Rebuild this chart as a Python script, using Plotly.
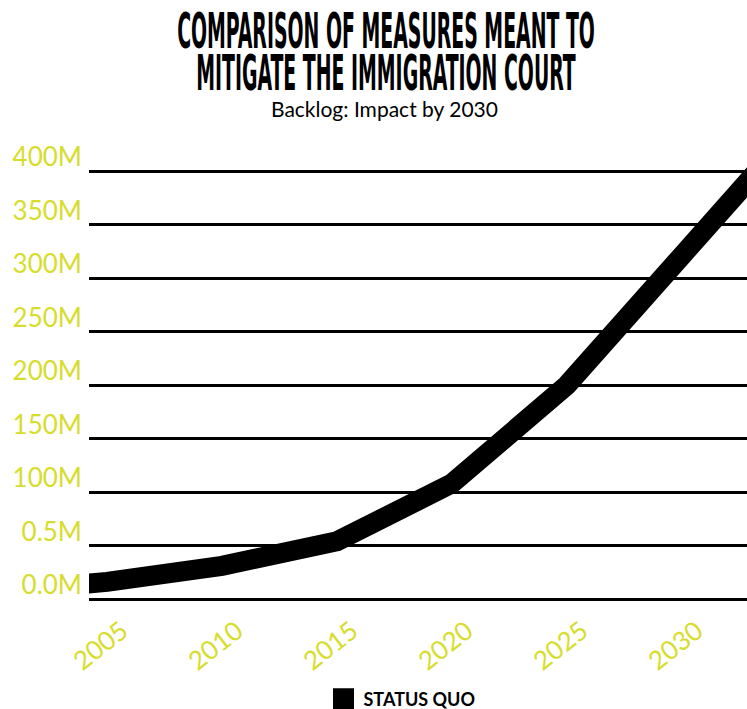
import plotly.graph_objects as go

# Backlog projection (millions of cases), status quo scenario
years = [2004, 2005, 2010, 2015, 2020, 2025, 2030, 2035]
status_quo = [14, 16, 31, 54, 108, 200, 321, 442]

# Axis ticks
x_ticks = [2005, 2010, 2015, 2020, 2025, 2030]
y_tick_vals = [0, 50, 100, 150, 200, 250, 300, 350, 400]
y_tick_text = ["0.0M", "0.5M", "100M", "150M", "200M", "250M", "300M", "350M", "400M"]

YELLOW = "#d6dd2c"
LABEL_FONT = "Lato, 'Noto Sans', sans-serif"
TITLE_FONT = "'Liberation Sans Narrow', 'DejaVu Sans Condensed', 'Arial Narrow', sans-serif"

fig = go.Figure()

fig.add_trace(go.Scatter(
    x=years, y=status_quo, mode="lines",
    line=dict(color="black", width=20),
    showlegend=False, hoverinfo="skip",
))

# Legend entry with a square swatch
fig.add_trace(go.Scatter(
    x=[None], y=[None], mode="markers", name="STATUS QUO",
    marker=dict(symbol="square", size=16, color="black",
                line=dict(color="black", width=5)),
))

fig.update_layout(
    width=747, height=709,
    margin=dict(l=89, r=0, t=150, b=99, autoexpand=False),
    paper_bgcolor="white", plot_bgcolor="white",
    title=dict(
        text="COMPARISON OF MEASURES MEANT TO<br>MITIGATE THE IMMIGRATION COURT",
        x=0.5168, xref="container", xanchor="center",
        y=1 - 50 / 709, yref="container", yanchor="middle",
        font=dict(family=TITLE_FONT, size=21, color="black", weight="bold"),
    ),
    annotations=[dict(
        text="Backlog: Impact by 2030",
        xref="paper", yref="paper",
        x=(384 - 89) / 658, y=(150 - 108) / 460 + 1,
        xanchor="center", yanchor="middle", showarrow=False,
        font=dict(family=LABEL_FONT, size=21, color="black"),
    )],
    showlegend=True,
    legend=dict(
        orientation="h", x=(402 - 89) / 658, xanchor="center",
        y=-(699 - 610) / 460, yanchor="middle",
        font=dict(family=LABEL_FONT, size=18, color="black", weight="bold"),
        itemwidth=30,
    ),
    xaxis=dict(
        range=[2004.217, 2032.826], automargin=False,
        tickvals=x_ticks, ticktext=[str(v) for v in x_ticks],
        tickangle=-38, ticklabelshift=15, ticklabelstandoff=0,
        tickfont=dict(family=LABEL_FONT, size=26, color=YELLOW),
        showgrid=False, zeroline=False, showline=False, ticks="",
    ),
    yaxis=dict(
        range=[-10.28, 419.63], automargin=False,
        tickvals=y_tick_vals, ticktext=y_tick_text,
        ticklabelshift=-14, ticklabelstandoff=6,
        tickfont=dict(family=LABEL_FONT, size=26, color=YELLOW),
        showgrid=True, gridcolor="black", gridwidth=3,
        zeroline=False, showline=False, ticks="",
    ),
)

# Compress the headline into a tall, condensed block: tighten the line
# pitch, then stretch vertically around its centre.
headline_js = """
var gd = document.getElementById('{plot_id}');
var t = gd.querySelector('.gtitle');
if (t) {
  var spans = t.querySelectorAll('tspan.line');
  for (var i = 1; i < spans.length; i++) { spans[i].setAttribute('dy', '0.85em'); }
  var b = t.getBBox();
  var cx = b.x + b.width / 2, top = b.y, s = 2.35;
  t.setAttribute('transform', 'translate(386,3) scale(1,' + s + ') translate(' + (-cx) + ',' + (-top) + ')');
}
"""

fig.write_html("out.html", post_script=headline_js)
